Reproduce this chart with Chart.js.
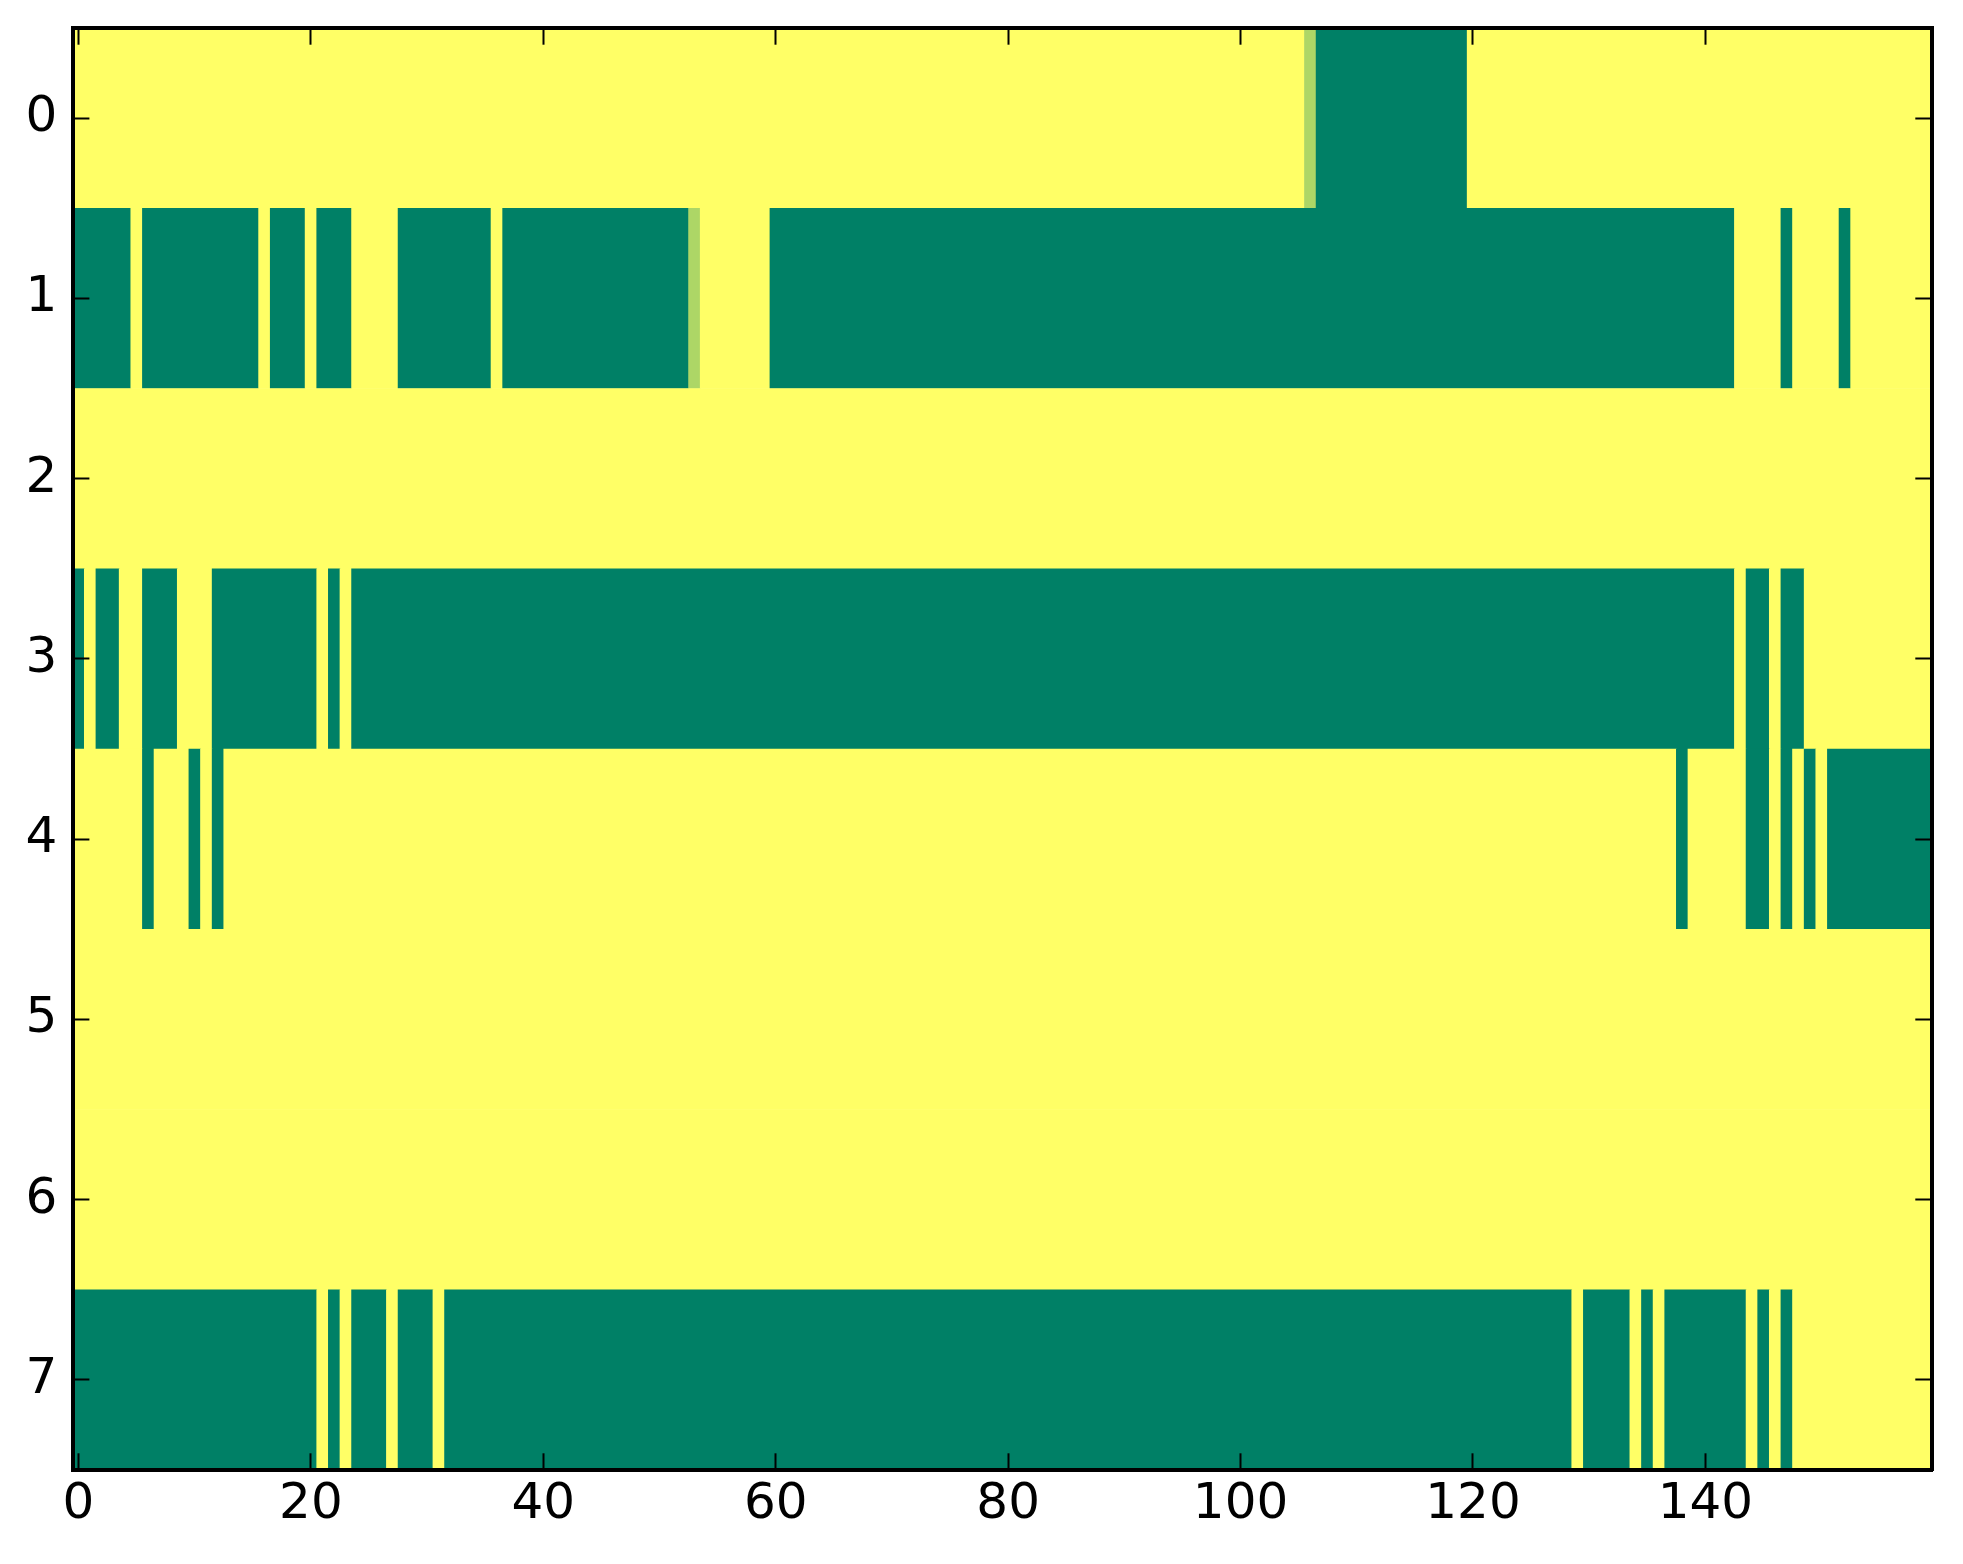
<!DOCTYPE html>
<html>
<head>
<meta charset="utf-8">
<script src="https://cdn.jsdelivr.net/npm/chart.js@4.4.1/dist/chart.umd.min.js"></script>
<style>
  html, body { margin: 0; padding: 0; background: #fff; }
  canvas { display: block; }
</style>
</head>
<body>
<canvas id="heat" width="1963" height="1564"></canvas>
<script>
  //! DATA

  // row labels (top to bottom) and x tick values
  const rowLabels = ["0", "1", "2", "3", "4", "5", "6", "7"];
  const xTicks = [0, 20, 40, 60, 80, 100, 120, 140];

  // cell values per row, 160 columns each (0 = green, 1 = yellow)
  const row0 = [
    1,1,1,1,1,1,1,1,1,1,1,1,1,1,1,1,1,1,1,1,
    1,1,1,1,1,1,1,1,1,1,1,1,1,1,1,1,1,1,1,1,
    1,1,1,1,1,1,1,1,1,1,1,1,1,1,1,1,1,1,1,1,
    1,1,1,1,1,1,1,1,1,1,1,1,1,1,1,1,1,1,1,1,
    1,1,1,1,1,1,1,1,1,1,1,1,1,1,1,1,1,1,1,1,
    1,1,1,1,1,1,0.68,0,0,0,0,0,0,0,0,0,0,0,0,0,
    1,1,1,1,1,1,1,1,1,1,1,1,1,1,1,1,1,1,1,1,
    1,1,1,1,1,1,1,1,1,1,1,1,1,1,1,1,1,1,1,1
  ];
  const row1 = [
    0,0,0,0,0,1,0,0,0,0,0,0,0,0,0,0,1,0,0,0,
    1,0,0,0,1,1,1,1,0,0,0,0,0,0,0,0,1,0,0,0,
    0,0,0,0,0,0,0,0,0,0,0,0,0,0.68,1,1,1,1,1,1,
    0,0,0,0,0,0,0,0,0,0,0,0,0,0,0,0,0,0,0,0,
    0,0,0,0,0,0,0,0,0,0,0,0,0,0,0,0,0,0,0,0,
    0,0,0,0,0,0,0,0,0,0,0,0,0,0,0,0,0,0,0,0,
    0,0,0,0,0,0,0,0,0,0,0,0,0,0,0,0,0,0,0,0,
    0,0,0,1,1,1,1,0,1,1,1,1,0,1,1,1,1,1,1,1
  ];
  const row2 = [
    1,1,1,1,1,1,1,1,1,1,1,1,1,1,1,1,1,1,1,1,
    1,1,1,1,1,1,1,1,1,1,1,1,1,1,1,1,1,1,1,1,
    1,1,1,1,1,1,1,1,1,1,1,1,1,1,1,1,1,1,1,1,
    1,1,1,1,1,1,1,1,1,1,1,1,1,1,1,1,1,1,1,1,
    1,1,1,1,1,1,1,1,1,1,1,1,1,1,1,1,1,1,1,1,
    1,1,1,1,1,1,1,1,1,1,1,1,1,1,1,1,1,1,1,1,
    1,1,1,1,1,1,1,1,1,1,1,1,1,1,1,1,1,1,1,1,
    1,1,1,1,1,1,1,1,1,1,1,1,1,1,1,1,1,1,1,1
  ];
  const row3 = [
    0,1,0,0,1,1,0,0,0,1,1,1,0,0,0,0,0,0,0,0,
    0,1,0,1,0,0,0,0,0,0,0,0,0,0,0,0,0,0,0,0,
    0,0,0,0,0,0,0,0,0,0,0,0,0,0,0,0,0,0,0,0,
    0,0,0,0,0,0,0,0,0,0,0,0,0,0,0,0,0,0,0,0,
    0,0,0,0,0,0,0,0,0,0,0,0,0,0,0,0,0,0,0,0,
    0,0,0,0,0,0,0,0,0,0,0,0,0,0,0,0,0,0,0,0,
    0,0,0,0,0,0,0,0,0,0,0,0,0,0,0,0,0,0,0,0,
    0,0,0,1,0,0,1,0,0,1,1,1,1,1,1,1,1,1,1,1
  ];
  const row4 = [
    1,1,1,1,1,1,0,1,1,1,0,1,0,1,1,1,1,1,1,1,
    1,1,1,1,1,1,1,1,1,1,1,1,1,1,1,1,1,1,1,1,
    1,1,1,1,1,1,1,1,1,1,1,1,1,1,1,1,1,1,1,1,
    1,1,1,1,1,1,1,1,1,1,1,1,1,1,1,1,1,1,1,1,
    1,1,1,1,1,1,1,1,1,1,1,1,1,1,1,1,1,1,1,1,
    1,1,1,1,1,1,1,1,1,1,1,1,1,1,1,1,1,1,1,1,
    1,1,1,1,1,1,1,1,1,1,1,1,1,1,1,1,1,1,0,1,
    1,1,1,1,0,0,1,0,1,0,1,0,0,0,0,0,0,0,0,0
  ];
  const row5 = [
    1,1,1,1,1,1,1,1,1,1,1,1,1,1,1,1,1,1,1,1,
    1,1,1,1,1,1,1,1,1,1,1,1,1,1,1,1,1,1,1,1,
    1,1,1,1,1,1,1,1,1,1,1,1,1,1,1,1,1,1,1,1,
    1,1,1,1,1,1,1,1,1,1,1,1,1,1,1,1,1,1,1,1,
    1,1,1,1,1,1,1,1,1,1,1,1,1,1,1,1,1,1,1,1,
    1,1,1,1,1,1,1,1,1,1,1,1,1,1,1,1,1,1,1,1,
    1,1,1,1,1,1,1,1,1,1,1,1,1,1,1,1,1,1,1,1,
    1,1,1,1,1,1,1,1,1,1,1,1,1,1,1,1,1,1,1,1
  ];
  const row6 = [
    1,1,1,1,1,1,1,1,1,1,1,1,1,1,1,1,1,1,1,1,
    1,1,1,1,1,1,1,1,1,1,1,1,1,1,1,1,1,1,1,1,
    1,1,1,1,1,1,1,1,1,1,1,1,1,1,1,1,1,1,1,1,
    1,1,1,1,1,1,1,1,1,1,1,1,1,1,1,1,1,1,1,1,
    1,1,1,1,1,1,1,1,1,1,1,1,1,1,1,1,1,1,1,1,
    1,1,1,1,1,1,1,1,1,1,1,1,1,1,1,1,1,1,1,1,
    1,1,1,1,1,1,1,1,1,1,1,1,1,1,1,1,1,1,1,1,
    1,1,1,1,1,1,1,1,1,1,1,1,1,1,1,1,1,1,1,1
  ];
  const row7 = [
    0,0,0,0,0,0,0,0,0,0,0,0,0,0,0,0,0,0,0,0,
    0,1,0,1,0,0,0,1,0,0,0,1,0,0,0,0,0,0,0,0,
    0,0,0,0,0,0,0,0,0,0,0,0,0,0,0,0,0,0,0,0,
    0,0,0,0,0,0,0,0,0,0,0,0,0,0,0,0,0,0,0,0,
    0,0,0,0,0,0,0,0,0,0,0,0,0,0,0,0,0,0,0,0,
    0,0,0,0,0,0,0,0,0,0,0,0,0,0,0,0,0,0,0,0,
    0,0,0,0,0,0,0,0,0,1,0,0,0,0,1,0,1,0,0,0,
    0,0,0,0,1,0,1,0,1,1,1,1,1,1,1,1,1,1,1,1
  ];

  const rows = [row0, row1, row2, row3, row4, row5, row6, row7];

  //! FUNCTIONS

  // matplotlib "summer" colormap, v in [0, 1]
  function summer(v) {
    const r = Math.round(255 * v);
    const g = Math.round(255 * (0.5 + v / 2));
    return "rgb(" + r + "," + g + ",102)";
  }

  // merge equal neighbouring cells of a row into one floating bar
  function rowRuns(values, label) {
    const runs = [];
    let start = 0;
    for (let c = 1; c <= values.length; c++) {
      if (c === values.length || values[c] !== values[start]) {
        runs.push({ x: [start - 0.5, c - 0.5], y: label, v: values[start] });
        start = c;
      }
    }
    return runs;
  }

  let cells = [];
  rows.forEach((values, r) => {
    cells = cells.concat(rowRuns(values, rowLabels[r]));
  });

  const font = { family: "'DejaVu Sans', sans-serif", size: 50 };

  function fixedTicks(scale) {
    scale.ticks = xTicks.map(v => ({ value: v }));
  }

  // fixed axis sizes so the plot box sits where the reference has it
  function fitTo(size) {
    return scale => {
      if (scale.isHorizontal()) scale.height = size;
      else scale.width = size;
      scale.paddingTop = 0;
      scale.paddingBottom = 0;
      scale.paddingLeft = 0;
      scale.paddingRight = 0;
    };
  }

  // inward tick marks drawn over the image
  const gridOpts = {
    drawOnChartArea: false,
    drawTicks: true,
    tickLength: -16.7,
    tickWidth: 2,
    tickColor: "#000",
    offset: false,
    z: 1
  };
  const borderOpts = { display: true, width: 4, color: "#000", z: 2 };

  //! CHART

  new Chart(document.getElementById("heat"), {
    type: "bar",
    data: {
      labels: rowLabels,
      datasets: [
        {
          data: cells,
          backgroundColor: ctx => summer(ctx.raw.v),
          borderWidth: 0,
          barPercentage: 1,
          categoryPercentage: 1,
          grouped: false
        }
      ]
    },
    options: {
      indexAxis: "y",
      responsive: false,
      animation: false,
      devicePixelRatio: 1,
      layout: { padding: 0 },
      plugins: {
        legend: { display: false },
        tooltip: { enabled: false }
      },
      scales: {
        x: {
          type: "linear",
          position: "bottom",
          min: -0.5,
          max: 159.5,
          afterBuildTicks: fixedTicks,
          afterFit: fitTo(94),
          ticks: { font: font, color: "#000", padding: 22, maxRotation: 0, autoSkip: false, z: 1 },
          grid: gridOpts,
          border: borderOpts
        },
        x2: {
          type: "linear",
          position: "top",
          min: -0.5,
          max: 159.5,
          afterBuildTicks: fixedTicks,
          afterFit: fitTo(28),
          ticks: { display: false },
          grid: gridOpts,
          border: borderOpts
        },
        y: {
          type: "category",
          position: "left",
          offset: true,
          afterFit: fitTo(72.7),
          ticks: { font: font, color: "#000", padding: 32, z: 1 },
          grid: gridOpts,
          border: borderOpts
        },
        y2: {
          type: "category",
          position: "right",
          labels: rowLabels,
          offset: true,
          afterFit: fitTo(31),
          ticks: { display: false },
          grid: gridOpts,
          border: borderOpts
        }
      }
    }
  });
</script>
</body>
</html>
